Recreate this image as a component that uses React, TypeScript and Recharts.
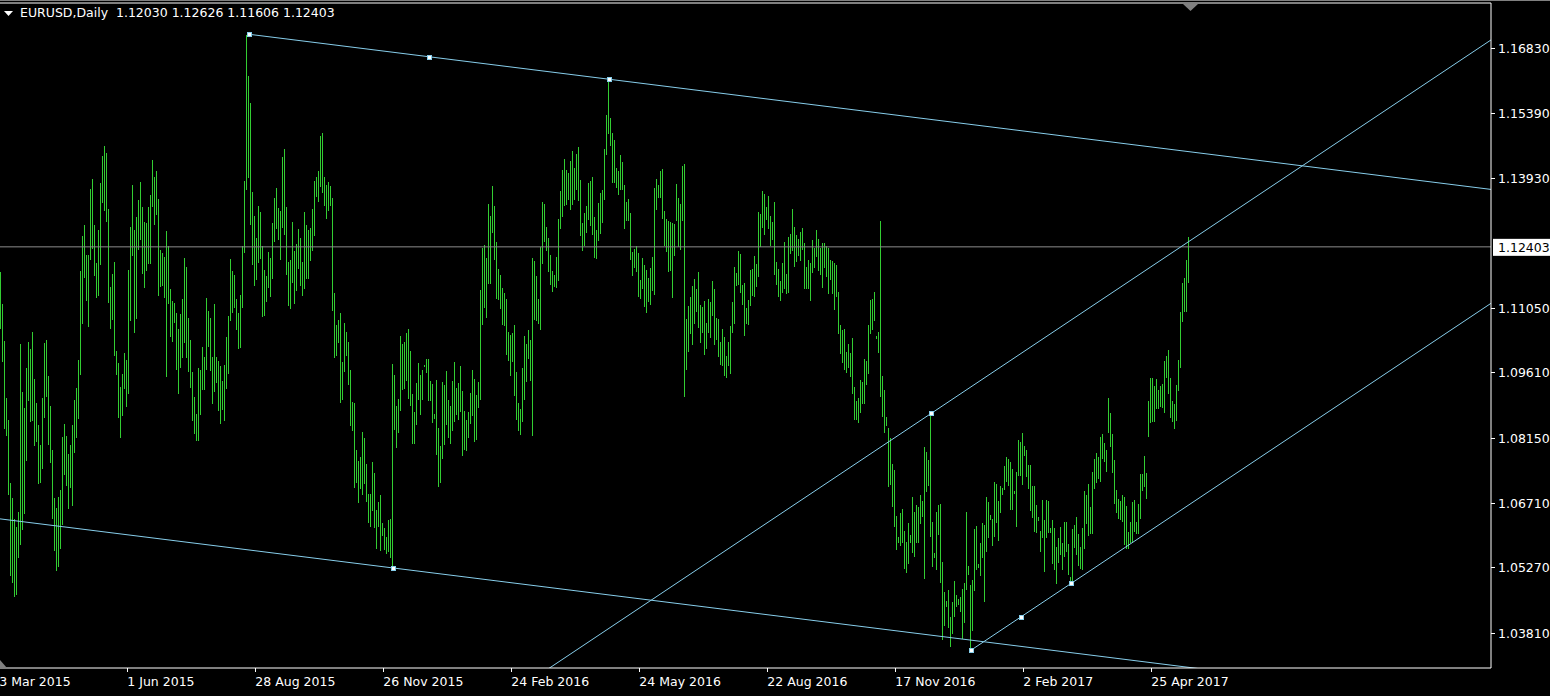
import React from 'react';
import { Bar, ComposedChart, ReferenceDot, ReferenceLine, XAxis, YAxis } from 'recharts';

// daily highs / lows, EURUSD, one entry per bar (Mar 2015 .. May 2017)
const highs = [
  1.1184, 1.1113, 1.1031, 1.0904, 1.0855, 1.0715, 1.0681, 1.0635, 1.0617, 1.0650, 1.1024, 1.0917, 1.0882, 1.0971, 1.1029, 1.1013, 1.1051, 1.0946, 1.0893, 1.0844,
  1.0799, 1.0904, 1.1026, 1.1033, 1.0953, 1.0886, 1.0788, 1.0681, 1.0659, 1.0684, 1.0699, 1.0817, 1.0846, 1.0819, 1.0779, 1.0799, 1.0844, 1.0899, 1.0926, 1.0988,
  1.1187, 1.1264, 1.1289, 1.1222, 1.1222, 1.1369, 1.1391, 1.1289, 1.1204, 1.1278, 1.1382, 1.1443, 1.1465, 1.1449, 1.1325, 1.1151, 1.1180, 1.1207, 1.1008, 1.0982,
  1.0928, 1.0957, 1.1004, 1.0988, 1.1189, 1.1285, 1.1378, 1.1278, 1.1307, 1.1345, 1.1385, 1.1329, 1.1296, 1.1293, 1.1329, 1.1356, 1.1434, 1.1396, 1.1409, 1.1347,
  1.1233, 1.1227, 1.1218, 1.1276, 1.1242, 1.1147, 1.1120, 1.1115, 1.1093, 1.1057, 1.1091, 1.1124, 1.1216, 1.1195, 1.1082, 1.1033, 1.0962, 1.0906, 1.0868, 1.0971,
  1.0966, 1.1017, 1.0995, 1.1126, 1.1097, 1.1082, 1.0995, 1.1113, 1.0995, 1.0986, 1.0975, 1.0942, 1.0977, 1.1040, 1.1086, 1.1213, 1.1187, 1.1178, 1.1124, 1.1093,
  1.1133, 1.1242, 1.1387, 1.1712, 1.1621, 1.1561, 1.1362, 1.1309, 1.1260, 1.1331, 1.1318, 1.1242, 1.1189, 1.1175, 1.1229, 1.1216, 1.1293, 1.1349, 1.1371, 1.1327,
  1.1320, 1.1440, 1.1458, 1.1329, 1.1207, 1.1211, 1.1296, 1.1231, 1.1247, 1.1280, 1.1260, 1.1207, 1.1318, 1.1289, 1.1278, 1.1282, 1.1325, 1.1387, 1.1396, 1.1409,
  1.1487, 1.1494, 1.1396, 1.1378, 1.1385, 1.1376, 1.1349, 1.1138, 1.1066, 1.1078, 1.1093, 1.0984, 1.1071, 1.1051, 1.1029, 1.0966, 1.0895, 1.0893, 1.0788, 1.0764,
  1.0772, 1.0828, 1.0815, 1.0757, 1.0690, 1.0690, 1.0761, 1.0737, 1.0655, 1.0672, 1.0688, 1.0626, 1.0615, 1.0594, 1.0632, 1.0635, 1.0980, 1.0955, 1.0886, 1.0902,
  1.1042, 1.1024, 1.1029, 1.1049, 1.1057, 1.1008, 1.0913, 1.0873, 1.0937, 1.0982, 1.0955, 1.0966, 1.0977, 1.0991, 1.0991, 1.0942, 1.0935, 1.0868, 1.0944, 1.0837,
  1.0797, 1.0940, 1.0933, 1.0964, 1.0899, 1.0886, 1.0942, 1.0984, 1.0926, 1.0937, 1.0975, 1.0920, 1.0875, 1.0855, 1.0873, 1.0915, 1.0966, 1.0946, 1.0911, 1.0940,
  1.1144, 1.1238, 1.1244, 1.1216, 1.1336, 1.1309, 1.1376, 1.1331, 1.1251, 1.1191, 1.1178, 1.1149, 1.1138, 1.1124, 1.1051, 1.1044, 1.1049, 1.1066, 1.0962, 1.0893,
  1.0879, 1.0971, 1.1042, 1.1024, 1.1055, 1.1033, 1.1216, 1.1209, 1.1175, 1.1124, 1.1240, 1.1340, 1.1336, 1.1285, 1.1260, 1.1222, 1.1187, 1.1178, 1.1218, 1.1302,
  1.1365, 1.1411, 1.1436, 1.1411, 1.1405, 1.1431, 1.1454, 1.1416, 1.1447, 1.1463, 1.1389, 1.1293, 1.1316, 1.1331, 1.1382, 1.1387, 1.1396, 1.1307, 1.1278, 1.1338,
  1.1360, 1.1367, 1.1458, 1.1534, 1.1614, 1.1527, 1.1494, 1.1478, 1.1416, 1.1409, 1.1445, 1.1429, 1.1378, 1.1340, 1.1347, 1.1316, 1.1229, 1.1236, 1.1242, 1.1227,
  1.1167, 1.1216, 1.1200, 1.1189, 1.1171, 1.1193, 1.1218, 1.1371, 1.1391, 1.1378, 1.1409, 1.1414, 1.1320, 1.1302, 1.1298, 1.1296, 1.1293, 1.1291, 1.1380, 1.1349,
  1.1336, 1.1420, 1.1425, 1.1080, 1.1109, 1.1129, 1.1153, 1.1169, 1.1147, 1.1184, 1.1111, 1.1107, 1.1120, 1.1071, 1.1124, 1.1118, 1.1164, 1.1147, 1.1082, 1.1080,
  1.1029, 1.1057, 1.1040, 1.0997, 1.1029, 1.1064, 1.1118, 1.1195, 1.1182, 1.1231, 1.1224, 1.1156, 1.1160, 1.1104, 1.1122, 1.1189, 1.1191, 1.1220, 1.1202, 1.1318,
  1.1314, 1.1365, 1.1358, 1.1329, 1.1354, 1.1309, 1.1296, 1.1340, 1.1207, 1.1191, 1.1164, 1.1204, 1.1251, 1.1180, 1.1262, 1.1269, 1.1325, 1.1285, 1.1267, 1.1258,
  1.1273, 1.1282, 1.1249, 1.1195, 1.1211, 1.1204, 1.1256, 1.1238, 1.1278, 1.1258, 1.1238, 1.1249, 1.1249, 1.1242, 1.1238, 1.1211, 1.1209, 1.1204, 1.1200, 1.1140,
  1.1066, 1.1055, 1.1057, 1.1006, 1.1024, 1.1004, 1.1038, 1.0928, 1.0897, 1.0904, 1.0944, 1.0940, 1.0991, 1.0986, 1.1066, 1.1122, 1.1124, 1.1140, 1.1042, 1.1051,
  1.1298, 1.0953, 1.0922, 1.0862, 1.0837, 1.0815, 1.0757, 1.0744, 1.0641, 1.0594, 1.0648, 1.0657, 1.0608, 1.0583, 1.0626, 1.0599, 1.0684, 1.0650, 1.0666, 1.0661,
  1.0688, 1.0675, 1.0795, 1.0784, 1.0766, 1.0870, 1.0628, 1.0559, 1.0650, 1.0666, 1.0668, 1.0539, 1.0472, 1.0452, 1.0476, 1.0416, 1.0450, 1.0497, 1.0465, 1.0456,
  1.0461, 1.0479, 1.0492, 1.0650, 1.0530, 1.0488, 1.0499, 1.0612, 1.0619, 1.0534, 1.0581, 1.0626, 1.0621, 1.0684, 1.0672, 1.0644, 1.0635, 1.0717, 1.0712, 1.0675,
  1.0708, 1.0704, 1.0753, 1.0773, 1.0768, 1.0761, 1.0746, 1.0697, 1.0739, 1.0810, 1.0806, 1.0826, 1.0797, 1.0788, 1.0755, 1.0755, 1.0708, 1.0708, 1.0666, 1.0639,
  1.0608, 1.0677, 1.0632, 1.0677, 1.0675, 1.0615, 1.0632, 1.0615, 1.0572, 1.0592, 1.0617, 1.0581, 1.0628, 1.0628, 1.0579, 1.0506, 1.0612, 1.0621, 1.0639, 1.0601,
  1.0572, 1.0615, 1.0697, 1.0688, 1.0712, 1.0661, 1.0739, 1.0768, 1.0781, 1.0773, 1.0817, 1.0824, 1.0804, 1.0788, 1.0904, 1.0871, 1.0824, 1.0766, 1.0699, 1.0679,
  1.0675, 1.0688, 1.0684, 1.0664, 1.0606, 1.0628, 1.0672, 1.0677, 1.0628, 1.0668, 1.0735, 1.0735, 1.0775, 1.0737, 1.0897, 1.0949, 1.0949, 1.0931, 1.0946, 1.0922,
  1.0931, 1.0935, 1.0986, 1.0997, 1.1011, 1.0949, 1.0897, 1.0890, 1.0933, 1.0988, 1.1095, 1.1160, 1.1171, 1.1211, 1.12626,
];

const lows = [
  1.1057, 1.0984, 1.0835, 1.0819, 1.0688, 1.0508, 1.0492, 1.0461, 1.0465, 1.0548, 1.0577, 1.0610, 1.0646, 1.0764, 1.0897, 1.0850, 1.0853, 1.0797, 1.0806, 1.0712,
  1.0715, 1.0746, 1.0859, 1.0906, 1.0799, 1.0759, 1.0635, 1.0563, 1.0519, 1.0528, 1.0568, 1.0621, 1.0732, 1.0708, 1.0657, 1.0704, 1.0663, 1.0781, 1.0815, 1.0857,
  1.0955, 1.1069, 1.1171, 1.1120, 1.1062, 1.1211, 1.1236, 1.1175, 1.1126, 1.1131, 1.1200, 1.1338, 1.1320, 1.1296, 1.1115, 1.1057, 1.1078, 1.0997, 1.0955, 1.0859,
  1.0815, 1.0864, 1.0924, 1.0884, 1.0913, 1.1075, 1.1220, 1.1049, 1.1080, 1.1233, 1.1256, 1.1180, 1.1149, 1.1187, 1.1202, 1.1202, 1.1329, 1.1289, 1.1311, 1.1131,
  1.1151, 1.1153, 1.1126, 1.0951, 1.1113, 1.1040, 1.1029, 1.1071, 1.0966, 1.0913, 1.0971, 1.0993, 1.1026, 1.0993, 1.0962, 1.0926, 1.0853, 1.0824, 1.0808, 1.0808,
  1.0866, 1.0922, 1.0922, 1.0966, 1.1017, 1.0964, 1.0890, 1.0917, 1.0937, 1.0875, 1.0846, 1.0877, 1.0853, 1.0924, 1.0957, 1.1075, 1.1093, 1.1104, 1.1055, 1.1013,
  1.1015, 1.1104, 1.1227, 1.1367, 1.1394, 1.1289, 1.1200, 1.1153, 1.1167, 1.1204, 1.1213, 1.1084, 1.1086, 1.1118, 1.1149, 1.1129, 1.1169, 1.1251, 1.1280, 1.1256,
  1.1211, 1.1282, 1.1267, 1.1178, 1.1109, 1.1102, 1.1160, 1.1113, 1.1142, 1.1191, 1.1153, 1.1131, 1.1147, 1.1169, 1.1169, 1.1209, 1.1231, 1.1264, 1.1351, 1.1340,
  1.1373, 1.1360, 1.1331, 1.1302, 1.1320, 1.1331, 1.1097, 1.0993, 1.0997, 1.1026, 1.0893, 1.0899, 1.0962, 1.0997, 1.0933, 1.0842, 1.0830, 1.0704, 1.0715, 1.0670,
  1.0701, 1.0688, 1.0712, 1.0672, 1.0626, 1.0617, 1.0652, 1.0615, 1.0568, 1.0617, 1.0563, 1.0597, 1.0566, 1.0557, 1.0561, 1.0548, 1.0525, 1.0833, 1.0793, 1.0826,
  1.0875, 1.0922, 1.0924, 1.0942, 1.0902, 1.0886, 1.0801, 1.0801, 1.0844, 1.0899, 1.0866, 1.0899, 1.0973, 1.0960, 1.0897, 1.0897, 1.0848, 1.0857, 1.0777, 1.0706,
  1.0715, 1.0768, 1.0799, 1.0844, 1.0815, 1.0801, 1.0830, 1.0850, 1.0866, 1.0855, 1.0873, 1.0775, 1.0788, 1.0786, 1.0815, 1.0846, 1.0864, 1.0806, 1.0810, 1.0882,
  1.0899, 1.1066, 1.1104, 1.1082, 1.1158, 1.1158, 1.1271, 1.1211, 1.1124, 1.1122, 1.1102, 1.1066, 1.1064, 1.0999, 1.0986, 1.0953, 1.0984, 1.0908, 1.0855, 1.0830,
  1.0822, 1.0850, 1.0899, 1.0940, 1.0991, 1.0942, 1.0819, 1.1078, 1.1075, 1.1069, 1.1055, 1.1202, 1.1251, 1.1231, 1.1184, 1.1156, 1.1140, 1.1151, 1.1149, 1.1164,
  1.1280, 1.1307, 1.1331, 1.1334, 1.1345, 1.1322, 1.1334, 1.1345, 1.1367, 1.1342, 1.1264, 1.1231, 1.1242, 1.1271, 1.1300, 1.1287, 1.1267, 1.1216, 1.1213, 1.1253,
  1.1269, 1.1293, 1.1345, 1.1445, 1.1491, 1.1465, 1.1382, 1.1382, 1.1371, 1.1356, 1.1367, 1.1367, 1.1280, 1.1298, 1.1298, 1.1211, 1.1175, 1.1193, 1.1184, 1.1129,
  1.1124, 1.1147, 1.1107, 1.1093, 1.1118, 1.1111, 1.1142, 1.1133, 1.1322, 1.1349, 1.1349, 1.1302, 1.1242, 1.1229, 1.1184, 1.1187, 1.1126, 1.1220, 1.1298, 1.1240,
  1.1233, 1.1298, 1.0906, 1.0966, 1.1006, 1.1046, 1.1022, 1.1069, 1.1095, 1.1060, 1.1026, 1.1049, 1.0999, 1.1013, 1.1049, 1.1038, 1.1086, 1.1022, 1.1033, 1.0995,
  1.0977, 1.0975, 1.0953, 1.0949, 1.0975, 1.0957, 1.1049, 1.1069, 1.1153, 1.1156, 1.1138, 1.1111, 1.1042, 1.1069, 1.1066, 1.1109, 1.1131, 1.1129, 1.1151, 1.1173,
  1.1240, 1.1282, 1.1267, 1.1300, 1.1280, 1.1242, 1.1256, 1.1178, 1.1156, 1.1129, 1.1120, 1.1138, 1.1147, 1.1135, 1.1138, 1.1224, 1.1231, 1.1196, 1.1207, 1.1220,
  1.1209, 1.1233, 1.1147, 1.1147, 1.1147, 1.1120, 1.1182, 1.1193, 1.1218, 1.1187, 1.1178, 1.1149, 1.1193, 1.1173, 1.1135, 1.1167, 1.1135, 1.1100, 1.1129, 1.1046,
  1.1002, 1.0982, 1.0966, 1.0960, 1.0971, 1.0951, 1.0913, 1.0855, 1.0855, 1.0848, 1.0871, 1.0891, 1.0891, 1.0933, 1.0957, 1.1046, 1.1055, 1.1075, 1.1035, 1.1004,
  1.0906, 1.0862, 1.0826, 1.0842, 1.0706, 1.0710, 1.0661, 1.0617, 1.0566, 1.0581, 1.0575, 1.0581, 1.0523, 1.0514, 1.0534, 1.0581, 1.0559, 1.0550, 1.0581, 1.0581,
  1.0623, 1.0639, 1.0501, 1.0695, 1.0708, 1.0594, 1.0528, 1.0548, 1.0521, 1.0599, 1.0492, 1.0365, 1.0397, 1.0439, 1.0392, 1.0350, 1.0378, 1.0416, 1.0439, 1.0443,
  1.0428, 1.0367, 1.0403, 1.0476, 1.0510, 1.0343, 1.0385, 1.0474, 1.0521, 1.0525, 1.0508, 1.0548, 1.0450, 1.0561, 1.0592, 1.0632, 1.0575, 1.0594, 1.0626, 1.0586,
  1.0648, 1.0688, 1.0699, 1.0717, 1.0708, 1.0655, 1.0655, 1.0690, 1.0617, 1.0730, 1.0730, 1.0710, 1.0775, 1.0728, 1.0701, 1.0652, 1.0637, 1.0606, 1.0603, 1.0630,
  1.0561, 1.0592, 1.0516, 1.0592, 1.0603, 1.0603, 1.0534, 1.0521, 1.0490, 1.0536, 1.0554, 1.0521, 1.0550, 1.0561, 1.0510, 1.0491, 1.0497, 1.0570, 1.0554, 1.0530,
  1.0523, 1.0521, 1.0568, 1.0623, 1.0597, 1.0601, 1.0601, 1.0701, 1.0715, 1.0724, 1.0717, 1.0768, 1.0761, 1.0739, 1.0826, 1.0795, 1.0737, 1.0668, 1.0648, 1.0635,
  1.0632, 1.0628, 1.0577, 1.0568, 1.0568, 1.0581, 1.0583, 1.0606, 1.0601, 1.0601, 1.0635, 1.0697, 1.0706, 1.0679, 1.0817, 1.0848, 1.0850, 1.0850, 1.0880, 1.0880,
  1.0884, 1.0882, 1.0871, 1.0949, 1.0913, 1.0859, 1.0850, 1.0835, 1.0853, 1.0920, 1.0971, 1.1073, 1.1095, 1.1095, 1.11606,
];

const priceTicks = [1.0381, 1.0527, 1.0671, 1.0815, 1.0961, 1.1105, 1.1393, 1.1539, 1.1683];
const dateLabels = ['3 Mar 2015', '1 Jun 2015', '28 Aug 2015', '26 Nov 2015', '24 Feb 2016', '24 May 2016', '22 Aug 2016', '17 Nov 2016', '2 Feb 2017', '25 Apr 2017'];
const dateBars = [-1, 63, 127, 191, 255, 319, 383, 447, 511, 575];
const lastBar = [1.12030, 1.12626, 1.11606, 1.12403];

// channel anchors: [start, end, third point] as (bar index, price)
const channelA = [{ x: 124, y: 1.17134 }, { x: 304, y: 1.16133 }, { x: 196, y: 1.05254 }];
const channelB = [{ x: 485, y: 1.03429 }, { x: 535, y: 1.04914 }, { x: 465, y: 1.08698 }];

const X_DOMAIN: [number, number] = [-0.665, 744.835];
const Y_DOMAIN: [number, number] = [1.03028, 1.17831];

const BAR = '#32cd32';
const LINE = '#87ceeb';
const FONT = '"DejaVu Sans", sans-serif';

const bars = highs.map((h, i) => ({ i, range: [lows[i], h] }));

const lineAt = (a: any, b: any, x: number) => a.y + ((b.y - a.y) * (x - a.x)) / (b.x - a.x);

function channel([p1, p2, p3]: any[]) {
  const [x0, x1] = X_DOMAIN;
  const dy = p3.y - lineAt(p1, p2, p3.x);
  return {
    main: [{ x: p1.x, y: p1.y }, { x: x1, y: lineAt(p1, p2, x1) }],
    parallel: [{ x: x0, y: lineAt(p1, p2, x0) + dy }, { x: x1, y: lineAt(p1, p2, x1) + dy }],
    handles: [p1, p2, p3, { x: (p1.x + p2.x) / 2, y: (p1.y + p2.y) / 2 }],
  };
}

const chA = channel(channelA);
const chB = channel(channelB);

const HlBar = (props: any) => {
  const { x, y, width, height } = props;
  if (x == null || y == null) return null;
  const top = Math.min(y, y + height);
  const h = Math.max(Math.round(Math.abs(height)), 1);
  return <rect x={Math.floor(x + width / 2)} y={Math.round(top)} width={1} height={h} fill={BAR} />;
};

const Handle = (props: any) => (
  <rect x={Math.round(props.cx) - 1.5} y={Math.round(props.cy) - 1.5} width={4} height={4} fill="#fff" stroke={LINE} strokeWidth={1} />
);

const PriceTick = (props: any) => {
  const { x, y, payload } = props;
  return (
    <g>
      <line x1={x} x2={x + 4} y1={Math.round(y) + 0.5} y2={Math.round(y) + 0.5} stroke="#fff" />
      <text x={x + 7} y={y + 5} fill="#fff" fontSize={12.5} fontFamily={FONT}>{payload.value.toFixed(5)}</text>
    </g>
  );
};

const DateTick = (props: any) => {
  const { x, y, payload } = props;
  const label = dateLabels[dateBars.indexOf(payload.value)];
  return (
    <g>
      <line x1={Math.round(x) + 0.5} x2={Math.round(x) + 0.5} y1={y} y2={y + 4} stroke="#fff" />
      <text x={x} y={y + 18} fill="#fff" fontSize={12.5} fontFamily={FONT}>{label}</text>
    </g>
  );
};

const PriceTag = (props: any) => {
  const { viewBox } = props;
  if (!viewBox) return null;
  const x = viewBox.x + viewBox.width + 2;
  return (
    <g>
      <rect x={x} y={viewBox.y - 8} width={57} height={17} fill="#fff" />
      <text x={x + 5} y={viewBox.y + 5} fill="#000" fontSize={12.5} fontFamily={FONT}>{lastBar[3].toFixed(5)}</text>
    </g>
  );
};

export default function App() {
  return (
    <div style={{ position: 'relative', width: 1550, height: 696, background: '#000', overflow: 'hidden' }}>
      <style>{'body{margin:0;background:#000}'}</style>
      <ComposedChart width={1550} height={696} data={bars} margin={{ top: 3, right: 0, bottom: 0, left: 0 }}>
        <XAxis
          dataKey="i"
          type="number"
          domain={X_DOMAIN}
          allowDataOverflow
          ticks={dateBars}
          interval={0}
          height={28}
          axisLine={{ stroke: '#fff' }}
          tickLine={false}
          tickSize={0}
          tickMargin={0}
          tick={<DateTick/>}
        />
        <YAxis
          orientation="right"
          type="number"
          domain={Y_DOMAIN}
          allowDataOverflow
          ticks={priceTicks}
          interval={0}
          width={59}
          axisLine={{ stroke: '#fff' }}
          tickLine={false}
          tickSize={0}
          tickMargin={0}
          tick={<PriceTick/>}
        />
        <Bar dataKey="range" barSize={1} shape={<HlBar/>} isAnimationActive={false}/>
        <ReferenceLine y={Y_DOMAIN[1]} stroke="#fff"/>
        <ReferenceLine y={lastBar[3]} stroke="#8c8c8c" label={<PriceTag/>}/>
        <ReferenceLine segment={chA.main} stroke={LINE} ifOverflow="hidden"/>
        <ReferenceLine segment={chA.parallel} stroke={LINE} ifOverflow="hidden"/>
        <ReferenceLine segment={chB.main} stroke={LINE} ifOverflow="hidden"/>
        <ReferenceLine segment={chB.parallel} stroke={LINE} ifOverflow="hidden"/>
        {[...chA.handles, ...chB.handles].map((p, k) => (
          <ReferenceDot key={k} x={p.x} y={p.y} r={3} shape={<Handle/>} ifOverflow="visible"/>
        ))}
      </ComposedChart>

      <div style={{ position: 'absolute', left: 0, top: 0, width: 1550, height: 1, background: '#808080' }}/>
      <svg width={1550} height={696} style={{ position: 'absolute', left: 0, top: 0, pointerEvents: 'none' }}>
        <polygon points="4,11 13,11 8.5,16" fill="#fff"/>
        <polygon points="1183,4 1198,4 1190.5,11" fill="#808080"/>
        <polygon points="0,660 0,668 7,668" fill="#808080"/>
      </svg>
      <div style={{ position: 'absolute', left: 20, top: 5, color: '#fff', font: `12.5px ${FONT}`, whiteSpace: 'pre', lineHeight: '16px' }}>
        {'EURUSD,Daily  ' + lastBar.map((v) => v.toFixed(5)).join(' ')}
      </div>
    </div>
  );
}
